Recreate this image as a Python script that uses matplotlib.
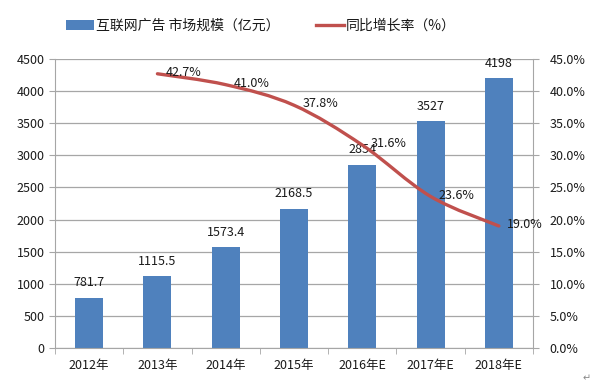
import matplotlib
matplotlib.use("Agg")
import matplotlib.pyplot as plt
from matplotlib.path import Path
from matplotlib.patches import PathPatch, Patch
import numpy as np

plt.rcParams['font.family'] = ['Noto Sans CJK SC', 'DejaVu Sans']

categories = ["2012年", "2013年", "2014年", "2015年", "2016年E", "2017年E", "2018年E"]
market_size = [781.7, 1115.5, 1573.4, 2168.5, 2854, 3527, 4198]
market_labels = ["781.7", "1115.5", "1573.4", "2168.5", "2854", "3527", "4198"]
growth_cats = ["2013年", "2014年", "2015年", "2016年E", "2017年E", "2018年E"]
growth_rate = [42.7, 41.0, 37.8, 31.6, 23.6, 19.0]

bar_color = "#4F81BD"
line_color = "#C0504D"
grid_color = "#A6A6A6"
text_color = "#1A1A1A"

fig = plt.figure(figsize=(6.0, 3.91), dpi=100)
ax = fig.add_axes([55/600, 1-348/391, (533-55)/600, (348-59)/391])
ax2 = ax.twinx()

x = np.arange(len(categories))
ax.bar(x, market_size, width=0.41, color=bar_color, zorder=2)
for xi, v, lab in zip(x, market_size, market_labels):
    ax.annotate(lab, (xi, v), xytext=(0, 6), textcoords="offset points",
                ha="center", va="bottom", fontsize=9, color=text_color)

ax.set_xlim(-0.5, len(categories)-0.5)
ax.set_ylim(0, 4500)
ax.set_yticks(np.arange(0, 4501, 500))
ax.set_xticks(x)
ax.set_xticklabels(categories, fontsize=9, color=text_color)
ax.set_xticks(np.arange(-0.5, len(categories), 1), minor=True)
ax.tick_params(axis='x', which='major', length=0, pad=8)
ax.tick_params(axis='x', which='minor', length=4, color=grid_color)
ax.tick_params(axis='y', length=4, color=grid_color, labelsize=9, labelcolor=text_color)
ax.yaxis.grid(True, color=grid_color, linewidth=0.9, zorder=0)
ax.set_axisbelow(True)
for s in ["top", "right"]:
    ax.spines[s].set_visible(False)
ax.spines["left"].set_color(grid_color)
ax.spines["bottom"].set_color(grid_color)

# growth line (smooth curve through data points)
gx = np.array([categories.index(c) for c in growth_cats], dtype=float)
gy = np.array(growth_rate, dtype=float)
ax2.set_ylim(0, 45)
ax2.set_yticks(np.arange(0, 46, 5))
ax2.set_yticklabels([f"{v:.1f}%" for v in np.arange(0, 46, 5)])
ax2.tick_params(axis='y', length=4, color=grid_color, labelsize=9, labelcolor=text_color, pad=8)
for s in ["top", "left", "bottom"]:
    ax2.spines[s].set_visible(False)
ax2.spines["right"].set_color(grid_color)

pts = np.column_stack([gx, gy])
verts = [pts[0]]
codes = [Path.MOVETO]
t = 1/6
for i in range(len(pts)-1):
    p0 = pts[i-1] if i > 0 else pts[i]
    p1 = pts[i]
    p2 = pts[i+1]
    p3 = pts[i+2] if i+2 < len(pts) else pts[i+1]
    c1 = p1 + (p2 - p0) * t
    c2 = p2 - (p3 - p1) * t
    verts += [c1, c2, p2]
    codes += [Path.CURVE4]*3
ax2.add_patch(PathPatch(Path(verts, codes), facecolor="none", edgecolor=line_color,
                        linewidth=2.4, zorder=3, capstyle="round"))
line_handle, = ax2.plot([], [], color=line_color, linewidth=2.4)
for xi, v in zip(gx, gy):
    ax2.annotate(f"{v:.1f}%", (xi, v), xytext=(6, 1), textcoords="offset points",
                 ha="left", va="center", fontsize=9, color=text_color)

bar_handle = Patch(facecolor=bar_color)
fig.legend([bar_handle, line_handle], ["互联网广告 市场规模（亿元）", "同比增长率（%）"],
           loc="center", bbox_to_anchor=(0.435, 1-26/391), ncol=2, frameon=False,
           fontsize=10, handlelength=2.0, handleheight=0.7, handletextpad=0.15,
           columnspacing=2.6, labelcolor=text_color)

fig.text(0.985, 1-378/391, "↵", fontsize=7, color="#888888", ha="right", va="center",
         family="DejaVu Sans")

fig.savefig("out.png", dpi=100)
